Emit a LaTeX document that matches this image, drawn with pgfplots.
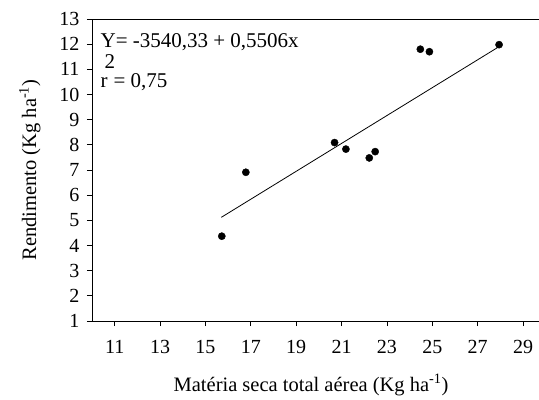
\documentclass[border=0pt]{standalone}
\usepackage{pgfplots}
\pgfplotsset{compat=1.18}
\usepackage{fontspec}
\setmainfont{Liberation Serif}
\begin{document}
\begin{tikzpicture}
\begin{axis}[
  name=ax,
  scale only axis,
  width=447pt, height=302pt,
  xmin=10, xmax=29.7, ymin=1, ymax=13,
  axis lines=left,
  axis line style={-, line width=0.9pt},
  tick align=outside,
  major tick length=5pt,
  tick style={line width=0.8pt, black},
  xtick={11,13,...,29},
  ytick={1,2,...,13},
  /pgf/number format/assume math mode=true,
  ticklabel style={font=\fontsize{20}{22}\selectfont},
  xticklabel style={yshift=-11pt},
  yticklabel style={xshift=-4pt},
  xlabel={Matéria seca total aérea (Kg ha\textsuperscript{-1})},
  ylabel={Rendimento (Kg ha\textsuperscript{-1})},
  label style={font=\fontsize{20.5}{23}\selectfont},
  x label style={at={(axis description cs:0.49,-0.212)}, anchor=center},
  y label style={at={(axis description cs:-0.139,0.5)}, anchor=center},
  clip=false,
]
\addplot[only marks, mark=*, mark size=3.6pt, black] coordinates {
(15.72,4.37) (16.78,6.91) (20.69,8.09) (21.19,7.83) (22.22,7.48)
(22.48,7.73) (24.47,11.80) (24.87,11.70) (27.94,11.98)
};
\addplot[black, line width=0.8pt] coordinates {(15.7,5.12) (27.9,11.88)};
\draw[line width=0.9pt] (rel axis cs:0,1) -- (rel axis cs:1,1);
\node[anchor=base west, inner sep=0pt, font=\fontsize{21}{23}\selectfont] at (axis cs:10.37,11.85) {Y= -3540,33 + 0,5506x};
\node[anchor=base west, inner sep=0pt, font=\fontsize{21}{23}\selectfont] at (axis cs:10.37,10.28) {r\kern6pt = 0,75};
\node[anchor=base west, inner sep=0pt, font=\fontsize{21}{23}\selectfont] at (axis cs:10.55,11.05) {2};
\end{axis}
\pgfresetboundingbox
\path ([xshift=-92pt,yshift=-78pt]ax.south west) rectangle ([yshift=19pt]ax.north east);
\end{tikzpicture}
\end{document}
